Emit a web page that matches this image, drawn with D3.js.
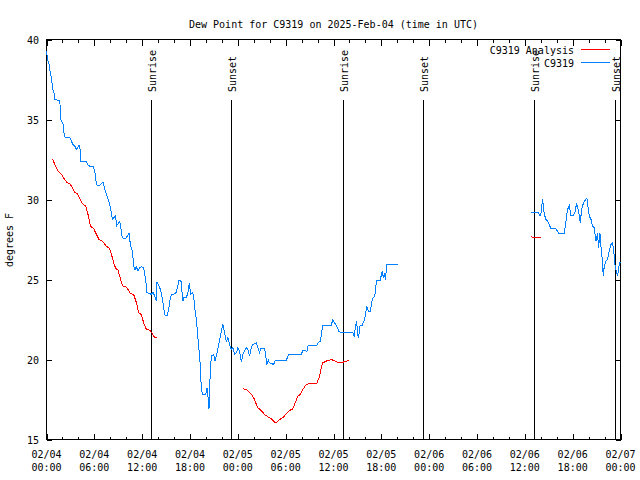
<!DOCTYPE html>
<html>
<head>
<meta charset="utf-8">
<script src="https://cdn.jsdelivr.net/npm/d3@7"></script>
<style>
  html, body { margin: 0; padding: 0; background: #fff; }
  text { font-family: "DejaVu Sans Mono", "Liberation Mono", monospace; font-size: 10px; fill: #000; }
</style>
</head>
<body>
<svg id="chart" width="640" height="480"></svg>
<script>
// ---------- data (hours since 2025-02-04 00:00 UTC, dew point °F) ----------
const startUTC = Date.UTC(2025, 1, 4, 0, 0);
const titleText = "Dew Point for C9319 on 2025-Feb-04 (time in UTC)";
const yTicks = [15, 20, 25, 30, 35, 40];
const xMajorHours = [0, 6, 12, 18, 24, 30, 36, 42, 48, 54, 60, 66, 72];
const xMinorHours = d3.range(0, 73, 2);

// observed station (C9319) - null marks the data gap
const obsHours = [0.00,0.13,0.29,0.41,0.66,0.75,0.91,1.04,1.67,1.79,1.92,2.08,2.17,2.33,2.92,3.13,3.33,3.58,3.76,4.08,4.21,4.30,5.01,5.14,5.43,5.84,5.96,6.09,6.27,6.59,7.09,7.22,7.39,7.52,7.72,7.93,8.06,8.15,8.27,8.68,8.77,9.19,9.35,9.52,9.94,10.35,10.44,10.56,10.78,10.94,11.10,11.28,11.48,11.69,11.90,12.19,12.36,12.53,12.61,12.94,13.16,13.36,13.57,13.78,13.86,14.11,14.29,14.45,14.61,14.82,15.11,15.36,15.54,15.66,16.20,16.42,16.62,16.87,16.99,17.12,17.24,17.54,17.74,17.92,18.08,18.30,18.46,18.58,18.80,18.92,19.12,19.30,19.42,19.62,19.96,20.13,20.25,20.38,20.55,20.68,20.97,21.13,21.30,21.50,21.72,21.93,22.13,22.34,22.56,22.76,22.97,23.18,23.38,23.60,23.81,24.01,24.22,24.44,24.64,24.85,25.06,25.26,25.48,25.69,25.89,26.32,26.73,26.86,27.36,27.48,27.64,27.82,27.98,28.48,28.73,30.08,30.40,31.95,32.16,32.66,32.83,33.91,34.12,34.37,34.54,34.66,35.71,35.92,36.13,36.38,36.67,36.88,38.42,38.60,38.76,38.92,39.01,39.17,39.26,39.60,39.89,40.01,40.18,40.39,40.60,40.76,40.85,41.14,41.27,41.35,41.43,41.85,42.02,42.10,42.27,42.39,42.52,42.68,44.06,
  50,
  60.78,61.48,61.69,61.90,62.03,62.23,62.44,62.66,62.86,63.28,63.91,64.24,64.95,65.16,65.36,65.58,65.79,66.08,66.33,66.49,66.74,66.96,67.12,67.33,67.58,67.79,67.87,68.08,68.30,68.50,68.71,68.92,69.12,69.25,69.42,69.55,69.67,69.84,69.96,70.18,70.38,70.59,70.80,71.00,71.13,71.30,71.43,71.63,71.84,71.97];
const obsDew = [39.27,38.75,38.54,38.13,37.50,36.88,36.77,36.25,36.19,35.00,34.90,34.69,34.19,33.88,33.89,33.64,33.44,33.31,33.13,33.38,33.13,32.39,32.39,32.19,32.08,32.08,31.88,31.67,30.94,30.83,31.11,30.83,30.52,30.31,30.00,29.69,29.38,29.06,28.75,29.00,28.33,28.64,28.13,27.60,27.56,27.88,27.50,27.08,26.77,25.83,25.63,25.79,25.52,25.73,25.79,25.73,25.21,24.58,24.17,24.13,24.06,24.21,23.96,23.64,24.83,24.58,24.38,24.06,23.54,22.81,22.71,23.23,23.86,24.06,24.11,24.48,24.96,24.89,24.27,23.64,23.86,23.86,24.17,24.79,24.06,24.17,23.96,23.23,22.50,21.77,20.63,19.58,18.13,17.81,17.81,18.23,17.71,16.88,19.38,20.21,20.31,19.89,20.21,20.67,21.25,21.77,22.19,21.67,21.14,21.36,20.94,20.63,20.73,20.31,20.42,20.73,20.52,19.83,20.31,20.52,20.73,20.63,20.21,20.73,20.94,21.04,20.42,20.67,20.67,20.31,19.69,19.96,19.79,19.69,19.96,19.96,20.31,20.31,20.58,20.52,20.88,20.88,21.08,21.14,21.77,22.13,22.13,22.50,22.29,22.13,21.77,21.67,21.67,21.42,22.08,22.39,21.56,21.36,22.08,22.13,22.50,22.81,23.29,23.02,23.02,23.38,23.75,23.96,24.27,24.79,24.96,24.96,25.31,25.52,25.10,25.42,25.00,25.94,25.94,
  null,
  29.17,29.21,29.17,28.96,29.17,30.00,29.06,28.75,28.64,28.17,28.17,27.88,27.88,28.64,29.38,29.63,29.00,29.00,29.27,29.79,29.27,28.54,29.38,29.75,29.96,30.10,29.69,28.96,28.75,28.33,28.23,27.39,27.92,26.98,27.92,27.08,26.46,25.21,25.83,26.14,26.25,26.77,27.19,27.29,26.88,25.94,25.63,25.21,25.94,26.10];

// analysis (C9319 Analysis) - null marks gaps
const anaHours = [0.63,0.83,1.04,1.45,1.88,2.29,2.58,2.92,3.33,3.55,3.88,4.17,4.59,4.92,5.21,5.51,5.93,6.27,6.59,7.02,7.52,7.93,8.15,8.43,8.68,8.97,9.19,9.40,9.60,9.94,10.23,10.53,10.94,11.28,11.57,11.90,12.19,12.53,12.94,13.28,13.57,13.86,
  18,
  24.64,25.06,25.48,25.81,26.10,26.32,26.52,26.94,27.36,27.77,28.20,28.61,28.82,29.24,29.65,30.08,30.49,30.90,31.12,31.53,31.83,32.16,32.58,33.00,33.91,34.25,34.46,34.66,35.09,35.71,36.25,36.67,37.17,37.59,38.01,
  50,
  60.78,61.40,62.03];
const anaDew = [32.50,32.46,32.19,31.77,31.56,31.25,31.04,31.00,30.67,30.42,30.38,30.04,29.69,29.58,29.06,28.33,28.17,27.81,27.50,27.39,27.08,26.92,26.56,26.04,25.69,25.58,25.21,24.79,24.58,24.54,24.38,24.13,24.06,23.54,22.92,22.81,22.29,21.88,21.83,21.63,21.35,21.35,
  null,
  18.17,18.13,17.92,17.75,17.50,17.19,16.98,16.81,16.56,16.42,16.29,16.08,16.04,16.25,16.36,16.61,16.81,16.92,17.19,17.71,17.81,18.13,18.44,18.50,18.50,18.96,19.48,19.79,19.90,20.00,19.90,19.79,19.83,19.90,19.92,
  null,
  27.67,27.60,27.60];

// sunrise / sunset markers (hours since start)
const sunLabels = ["Sunrise", "Sunset", "Sunrise", "Sunset", "Sunrise", "Sunset"];
const sunHours = [13.13, 23.16, 37.17, 47.19, 61.10, 71.28];

const seriesNames = ["C9319 Analysis", "C9319"];
const seriesColors = ["#ff0000", "#0080ff"];

// ---------- drawing ----------
const svg = d3.select("#chart");
const L = 46.5, R = 620.5, T = 39.5, B = 439.5;
const toDate = h => new Date(startUTC + h * 3600e3);

const x = d3.scaleUtc().domain([toDate(0), toDate(72)]).range([L, R]);
const y = d3.scaleLinear().domain([15, 40]).range([B, T]);

// title
svg.append("text").attr("x", (L + R) / 2).attr("y", 28)
  .attr("text-anchor", "middle").text(titleText);

// y label
svg.append("text").attr("transform", "translate(13,240) rotate(-90)")
  .attr("text-anchor", "middle").text("degrees F");

// axes (ticks inward, mirrored)
const axG = svg.append("g").attr("shape-rendering", "crispEdges");
const minorDates = xMinorHours.filter(h => !xMajorHours.includes(h)).map(toDate);
const majorDates = xMajorHours.map(toDate);

function tickAxis(gen, tr, vals, size) {
  const g = axG.append("g").attr("transform", tr)
    .call(gen.tickValues(vals).tickSizeInner(size).tickSizeOuter(0).tickFormat(""));
  g.select(".domain").remove();
  g.selectAll("line").attr("stroke", "#000");
}
tickAxis(d3.axisBottom(x), `translate(0,${B})`, majorDates, -6);
tickAxis(d3.axisBottom(x), `translate(0,${B})`, minorDates, -3);
tickAxis(d3.axisTop(x), `translate(0,${T})`, majorDates, -6);
tickAxis(d3.axisTop(x), `translate(0,${T})`, minorDates, -3);
tickAxis(d3.axisLeft(y), `translate(${L},0)`, yTicks, -5);
tickAxis(d3.axisRight(y), `translate(${R},0)`, yTicks, -5);

// border
axG.append("rect").attr("x", L).attr("y", T).attr("width", R - L).attr("height", B - T)
  .attr("fill", "none").attr("stroke", "#000");

// y tick labels
svg.append("g").selectAll("text").data(yTicks).join("text")
  .attr("x", 39).attr("y", d => y(d) + 4).attr("text-anchor", "end").text(d => d);

// x tick labels
const fDay = d3.utcFormat("%m/%d"), fTime = d3.utcFormat("%H:%M");
const xl = svg.append("g").selectAll("text").data(majorDates).join("text")
  .attr("text-anchor", "middle");
xl.append("tspan").attr("x", d => x(d)).attr("y", 458).text(d => fDay(d));
xl.append("tspan").attr("x", d => x(d)).attr("y", 471).text(d => fTime(d));

// sunrise / sunset lines
const sun = svg.append("g");
sunHours.forEach((h, i) => {
  const sx = Math.round(x(toDate(h))) + 0.5;
  sun.append("line").attr("x1", sx).attr("x2", sx).attr("y1", 100).attr("y2", B)
    .attr("stroke", "#000").attr("shape-rendering", "crispEdges");
  sun.append("text").attr("transform", `translate(${sx + 4.5},92) rotate(-90)`)
    .attr("text-anchor", "start").text(sunLabels[i]);
});

// data lines
const line = d3.line()
  .defined(d => d.v != null)
  .x(d => x(toDate(d.h)))
  .y(d => y(d.v));

const anaData = anaHours.map((h, i) => ({ h, v: anaDew[i] }));
const obsData = obsHours.map((h, i) => ({ h, v: obsDew[i] }));

svg.append("path").datum(anaData).attr("d", line)
  .attr("fill", "none").attr("stroke", seriesColors[0]).attr("stroke-width", 1)
  .attr("shape-rendering", "crispEdges");
svg.append("path").datum(obsData).attr("d", line)
  .attr("fill", "none").attr("stroke", seriesColors[1]).attr("stroke-width", 1)
  .attr("shape-rendering", "crispEdges");

// legend
const leg = svg.append("g");
seriesNames.forEach((name, i) => {
  const ly = 49.5 + i * 13;
  leg.append("text").attr("x", 574).attr("y", ly + 4).attr("text-anchor", "end").text(name);
  leg.append("line").attr("x1", 581).attr("x2", 610).attr("y1", ly).attr("y2", ly)
    .attr("stroke", seriesColors[i]).attr("shape-rendering", "crispEdges");
});
</script>
</body>
</html>
